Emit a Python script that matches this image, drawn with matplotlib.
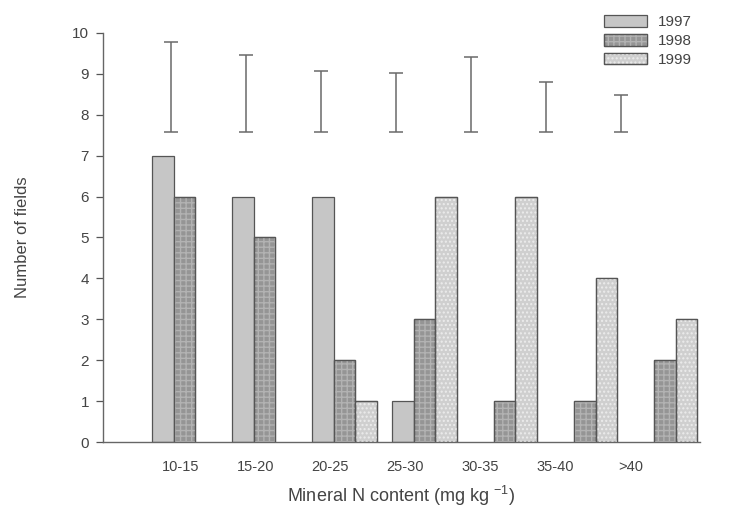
import matplotlib
matplotlib.use("Agg")
import matplotlib.pyplot as plt
from matplotlib.patches import Patch
from matplotlib.legend_handler import HandlerTuple
import numpy as np

plt.rcParams['font.family'] = ['Liberation Sans', 'DejaVu Sans']
plt.rcParams['mathtext.default'] = 'regular'
plt.rcParams['hatch.linewidth'] = 1.0

categories = ["10-15", "15-20", "20-25", "25-30", "30-35", "35-40", ">40"]
years = ["1997", "1998", "1999"]
fields_1997 = [7, 6, 6, 1, 0, 0, 0]
fields_1998 = [6, 5, 2, 3, 1, 1, 2]
fields_1999 = [0, 0, 1, 6, 6, 4, 3]
range_low = [7.58, 7.58, 7.58, 7.58, 7.58, 7.58, 7.58]
range_high = [9.77, 9.45, 9.08, 9.02, 9.42, 8.80, 8.48]

text_col = '#444444'
edge_col = '#555555'
fills = ['#c6c6c6', '#959595', '#cfcfcf']
hatches = [None, '+++', '....']
hatch_cols = [None, '#b2b2b2', '#ececec']

fig = plt.figure(figsize=(7.37, 5.16), dpi=100)
ax = fig.add_axes([103/737, 1-442/516, (700-103)/737, (442-33)/516])

x = np.arange(len(categories))
w = 0.269
series = [fields_1997, fields_1998, fields_1999]
handles = []
for k, vals in enumerate(series):
    v = np.array(vals, dtype=float)
    keep = v > 0
    xs = (x + (k - 1) * w)[keep]
    hv = v[keep]
    ax.bar(xs, hv, width=w, color=fills[k], edgecolor=edge_col, linewidth=0.9, zorder=2)
    h1 = Patch(facecolor=fills[k], edgecolor=edge_col, linewidth=0.9)
    if hatches[k]:
        ax.bar(xs, hv, width=w, color='none', edgecolor=hatch_cols[k], hatch=hatches[k],
               linewidth=0, zorder=3)
        ax.bar(xs, hv, width=w, color='none', edgecolor=edge_col, linewidth=0.9, zorder=4)
        h2 = Patch(facecolor='none', edgecolor=hatch_cols[k], hatch=hatches[k], linewidth=0)
        h3 = Patch(facecolor='none', edgecolor=edge_col, linewidth=0.9)
        handles.append((h1, h2, h3))
    else:
        handles.append(h1)

# range bars (irregular horizontal placement as in the original)
tick_pos = -0.056 + 0.9375 * np.arange(len(categories))
range_x = tick_pos - 0.11
mid = (np.array(range_low) + np.array(range_high)) / 2
err = (np.array(range_high) - np.array(range_low)) / 2
ax.errorbar(range_x, mid, yerr=err, fmt='none', ecolor='#6a6a6a', elinewidth=1.1,
            capsize=5, capthick=1.1, zorder=5)

ax.set_xlim(-1.02, 6.44)
ax.set_ylim(0, 10)
ax.set_yticks(range(0, 11))
ax.set_xticks(tick_pos)
ax.set_xticklabels(categories)
ax.tick_params(axis='x', length=0, pad=13, labelsize=10.5, colors=text_col)
ax.tick_params(axis='y', length=5, width=0.9, pad=5, labelsize=11, colors=edge_col,
               labelcolor=text_col)
for s in ['top', 'right']:
    ax.spines[s].set_visible(False)
for s in ['left', 'bottom']:
    ax.spines[s].set_color('#666666')
    ax.spines[s].set_linewidth(1.0)

ax.set_ylabel('Number of fields', fontsize=12, color=text_col, labelpad=30)
ax.set_xlabel('Mineral N content (mg kg $^{-1}$)', fontsize=13, color=text_col, labelpad=7)

leg = fig.legend(handles, years, handler_map={tuple: HandlerTuple(ndivide=1, pad=0)},
                 loc='upper left', bbox_to_anchor=(598/737, 1-9/516), frameon=False,
                 fontsize=11, handlelength=2.8, handleheight=0.8, labelspacing=0.3,
                 handletextpad=0.7, borderaxespad=0)
for t in leg.get_texts():
    t.set_color(text_col)

fig.savefig('out.png', dpi=100)
